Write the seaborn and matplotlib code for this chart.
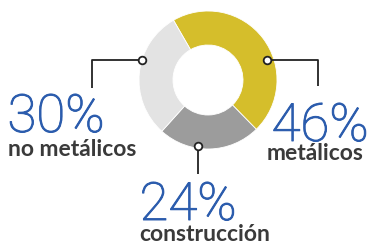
import matplotlib
matplotlib.use("Agg")
import matplotlib.pyplot as plt
import matplotlib.patheffects as pe
import seaborn as sns

categories = ["metálicos", "construcción", "no metálicos"]
values = [46, 24, 30]
pct_labels = ["46%", "24%", "30%"]

sns.set_theme(style="white")
plt.rcParams['font.family'] = ['Lato', 'DejaVu Sans']

colors = ["#D5BE2B", "#9C9C9C", "#E3E3E3"]
blue = "#2B5CAD"
gray_text = "#3A3A3A"

W, H = 367, 244
fig = plt.figure(figsize=(W / 100, H / 100), dpi=100)
ax = fig.add_axes([0, 0, 1, 1])

def Y(y):
    return H - y

ax.pie(values, colors=colors, startangle=120, counterclock=False,
       center=(208, Y(80)), radius=69,
       wedgeprops=dict(width=34, edgecolor="white", linewidth=0.6))
ax.set_xlim(0, W)
ax.set_ylim(0, H)
ax.set_aspect("equal")
ax.axis("off")

# leader lines
lk = dict(color="#222222", lw=1.3, solid_capstyle="butt", zorder=3)
mk = dict(marker="o", ms=5.5, mfc="white", mec="#222222", mew=1.3, zorder=4, ls="none")
ax.plot([142, 92, 92], [Y(60), Y(60), Y(88)], **lk)
ax.plot([142], [Y(60)], **mk)
ax.plot([267, 318, 318], [Y(60), Y(60), Y(86)], **lk)
ax.plot([267], [Y(60)], **mk)
ax.plot([198, 198], [Y(146), Y(174)], **lk)
ax.plot([198], [Y(146)], **mk)

pos = {
    "metálicos": ((320, 141), (315, 160)),
    "construcción": ((188, 220), (205, 241)),
    "no metálicos": ((56, 132), (72, 156)),
}
for cat, pct in zip(categories, pct_labels):
    (px, py), (lx, ly) = pos[cat]
    ax.text(px, Y(py), pct, ha="center", va="baseline", fontsize=38,
            fontweight="light", family=["Roboto", "DejaVu Sans"], color=blue,
            path_effects=[pe.withStroke(linewidth=0.7, foreground=blue)])
    ax.text(lx, Y(ly), cat, ha="center", va="baseline", fontsize=16.5,
            fontweight="bold", color=gray_text)

fig.savefig("out.png", dpi=100)
